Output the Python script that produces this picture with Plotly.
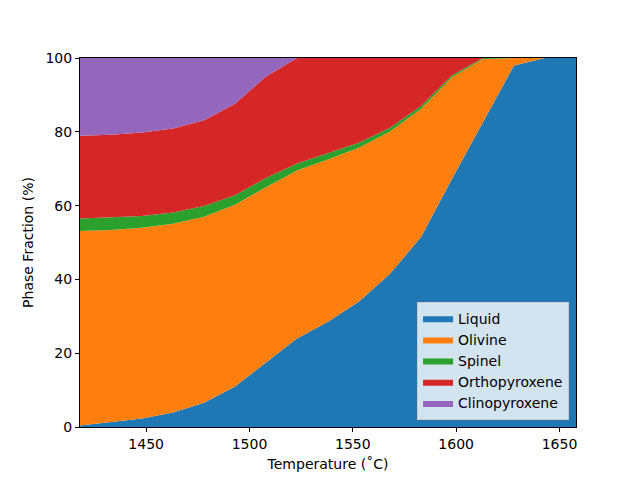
import plotly.graph_objects as go

temperature = [1418, 1433, 1448, 1463, 1478, 1493, 1508, 1523, 1538, 1553, 1568, 1583, 1598, 1613, 1628, 1643, 1658]
liquid = [0.4, 1.3, 2.3, 3.9, 6.6, 11.0, 17.6, 24.0, 28.5, 34.0, 41.5, 51.5, 67.3, 82.7, 98.0, 100, 100]
olivine = [52.7, 52.1, 51.7, 51.2, 50.4, 49.2, 47.4, 45.5, 44.0, 41.7, 38.6, 34.7, 27.5, 17.0, 2.0, 0, 0]
spinel = [3.4, 3.5, 3.2, 3.0, 2.9, 2.6, 2.5, 1.9, 1.6, 1.3, 1.0, 0.8, 0.5, 0.3, 0, 0, 0]
orthopyroxene = [22.4, 22.3, 22.6, 22.8, 23.2, 24.8, 27.5, 28.6, 25.9, 23.0, 18.9, 13.0, 4.7, 0, 0, 0, 0]
clinopyroxene = [21.1, 20.8, 20.2, 19.1, 16.9, 12.4, 5.0, 0, 0, 0, 0, 0, 0, 0, 0, 0, 0]

phases = ["Liquid", "Olivine", "Spinel", "Orthopyroxene", "Clinopyroxene"]
series = [liquid, olivine, spinel, orthopyroxene, clinopyroxene]
colors = ["#1f77b4", "#ff7f0e", "#2ca02c", "#d62728", "#9467bd"]

fig = go.Figure()
for name, vals, col in zip(phases, series, colors):
    fig.add_trace(go.Scatter(
        x=temperature, y=vals, name=name, mode="lines",
        stackgroup="one", line=dict(width=0, color=col),
        fillcolor=col, hoverinfo="x+y+name",
    ))

font = "DejaVu Sans"
fig.update_layout(
    width=640, height=480,
    margin=dict(l=80, r=64, t=58, b=53),
    plot_bgcolor="white", paper_bgcolor="white",
    font=dict(family=font, size=14, color="black"),
    showlegend=True,
    legend=dict(
        x=0.986, y=0.02, xanchor="right", yanchor="bottom",
        bgcolor="rgba(255,255,255,0.8)", bordercolor="#cccccc", borderwidth=1,
        traceorder="normal", font=dict(family=font, size=14),
    ),
    xaxis=dict(
        range=[1418, 1658], tickvals=[1450, 1500, 1550, 1600, 1650],
        showgrid=False, zeroline=False, showline=True, linecolor="black", linewidth=1,
        mirror=True, ticks="outside", ticklen=4, tickcolor="black", automargin=False,
        tickfont=dict(family=font, size=14),
        title=dict(text="Temperature (˚C)", font=dict(family=font, size=14), standoff=8),
    ),
    yaxis=dict(
        range=[0, 100], tickvals=[0, 20, 40, 60, 80, 100],
        showgrid=False, zeroline=False, showline=True, linecolor="black", linewidth=1,
        mirror=True, ticks="outside", ticklen=4, tickcolor="black", automargin=False,
        tickfont=dict(family=font, size=14),
        title=dict(text="Phase Fraction (%)", font=dict(family=font, size=14), standoff=8),
    ),
)

fig.write_html("out.html")
